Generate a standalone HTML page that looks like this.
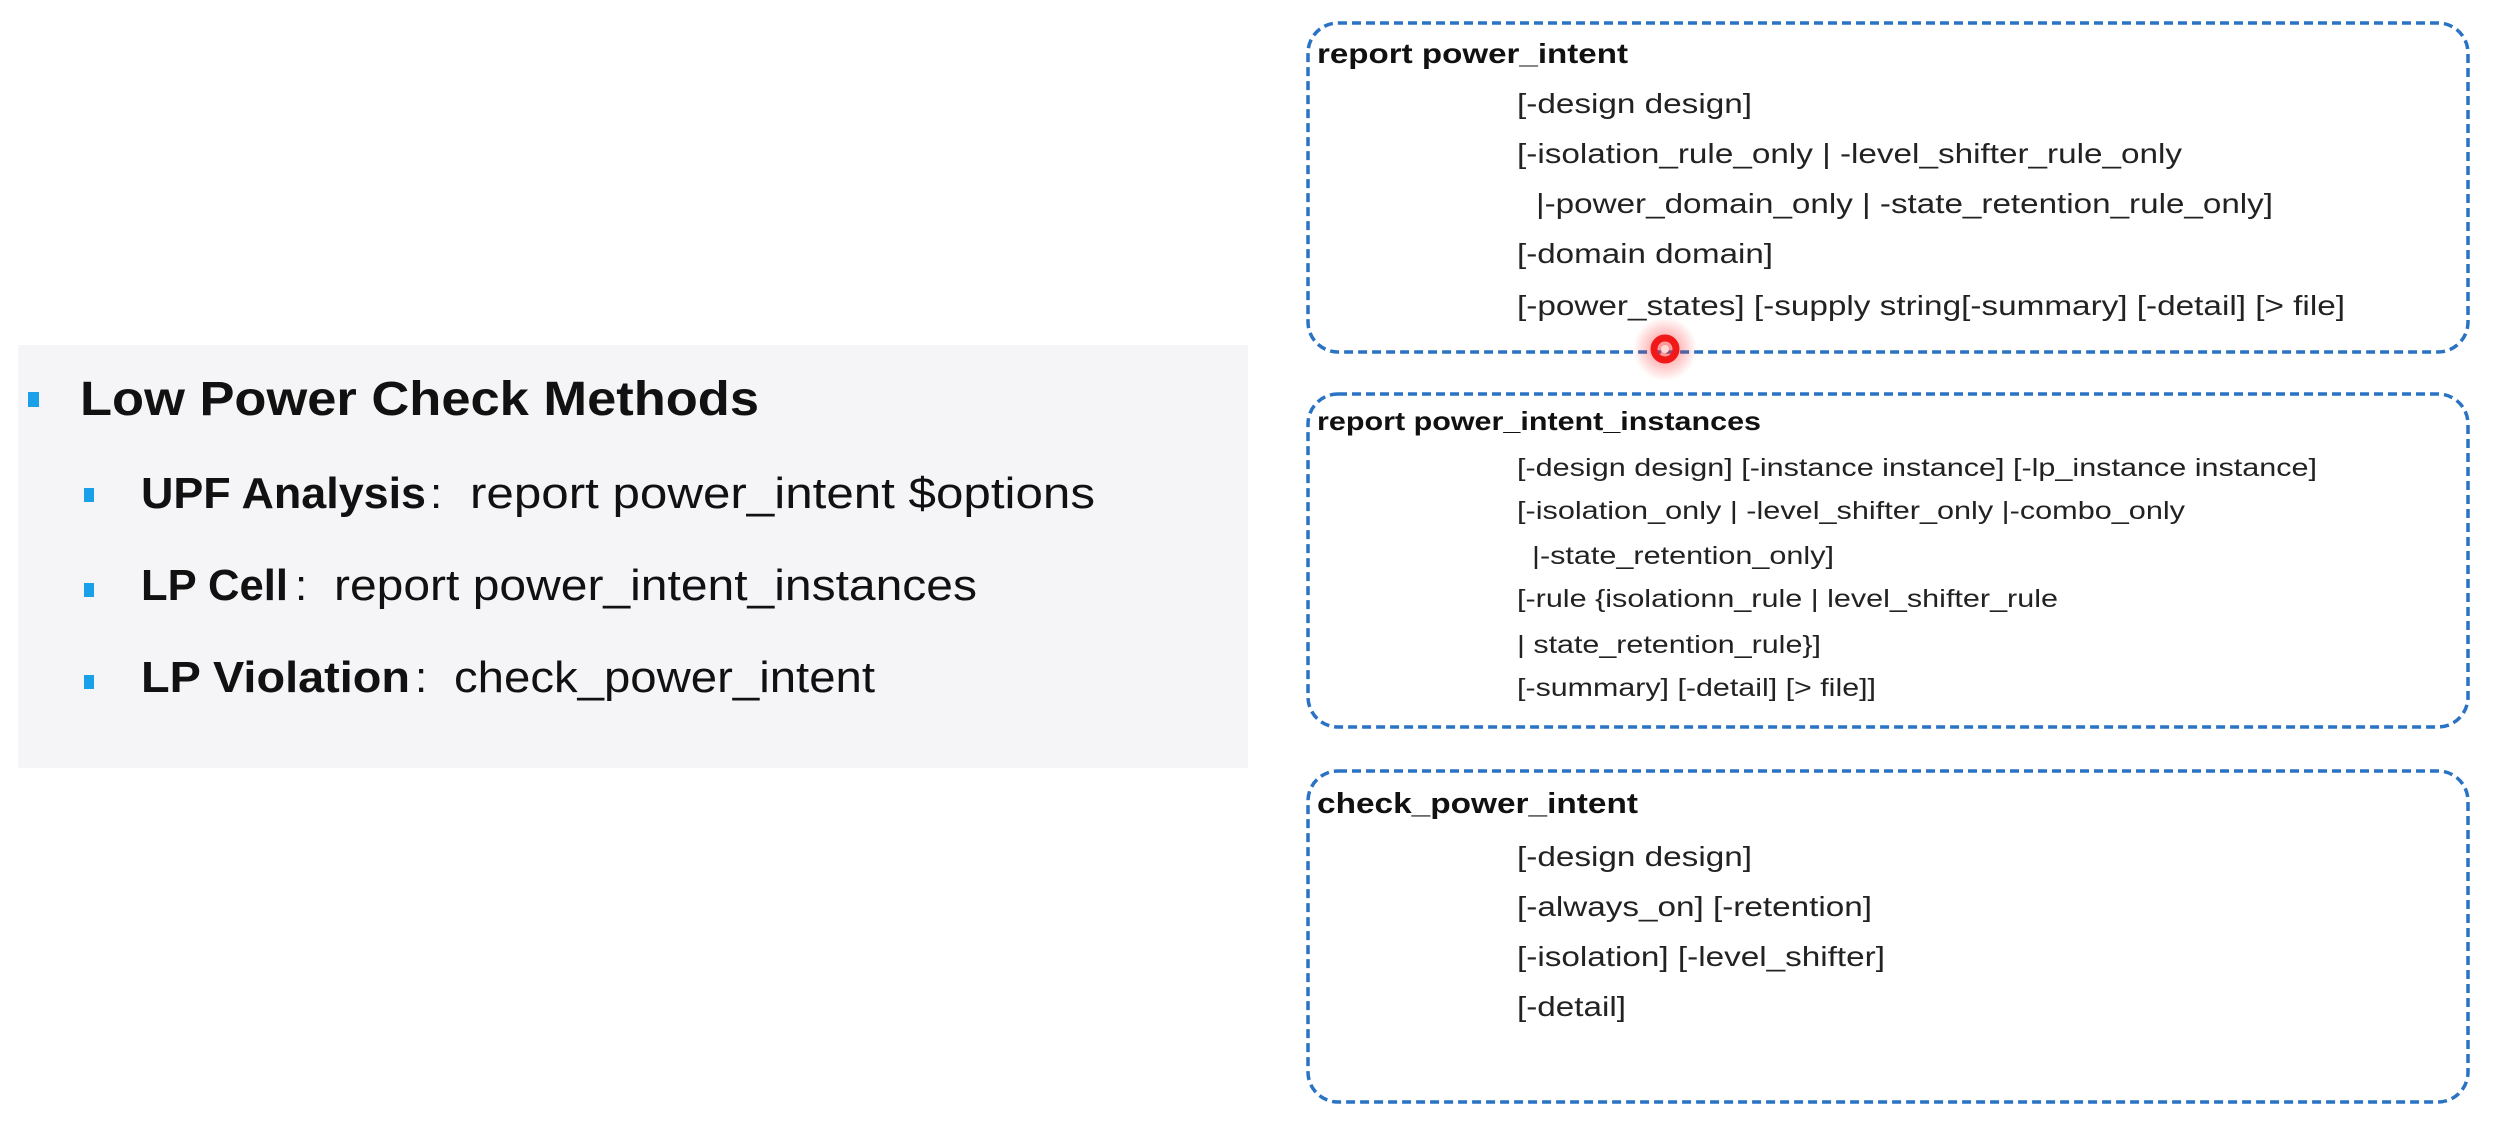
<!DOCTYPE html>
<html><head><meta charset="utf-8"><style>
html,body{margin:0;padding:0;background:#fff;width:2496px;height:1126px;overflow:hidden}
svg{display:block}
</style></head><body>
<svg width="2496" height="1126" viewBox="0 0 2496 1126" xmlns="http://www.w3.org/2000/svg" font-family="Liberation Sans, Arial, sans-serif">
<defs>
<radialGradient id="glow"><stop offset="0" stop-color="#ff2020" stop-opacity="0.55"/><stop offset="1" stop-color="#ff2020" stop-opacity="0"/></radialGradient>
</defs>
<rect x="18" y="345" width="1230" height="423" fill="#f5f5f7"/>
<rect x="28" y="392" width="11" height="15" fill="#1aa0e8"/>
<text x="80" y="415" font-size="48" font-weight="bold" fill="#111" textLength="679" lengthAdjust="spacingAndGlyphs">Low Power Check Methods</text>
<rect x="84" y="488" width="10" height="14" fill="#1aa0e8"/>
<text x="141" y="508" font-size="44" font-weight="bold" fill="#111" textLength="285" lengthAdjust="spacingAndGlyphs">UPF Analysis</text>
<text x="430" y="508" font-size="44" fill="#111">:</text>
<text x="470" y="508" font-size="44" fill="#111" textLength="625" lengthAdjust="spacingAndGlyphs">report power_intent $options</text>
<rect x="84" y="583" width="10" height="14" fill="#1aa0e8"/>
<text x="141" y="600" font-size="44" font-weight="bold" fill="#111" textLength="147" lengthAdjust="spacingAndGlyphs">LP Cell</text>
<text x="295" y="600" font-size="44" fill="#111">:</text>
<text x="334" y="600" font-size="44" fill="#111" textLength="643" lengthAdjust="spacingAndGlyphs">report power_intent_instances</text>
<rect x="84" y="675" width="10" height="14" fill="#1aa0e8"/>
<text x="141" y="692" font-size="44" font-weight="bold" fill="#111" textLength="269" lengthAdjust="spacingAndGlyphs">LP Violation</text>
<text x="415" y="692" font-size="44" fill="#111">:</text>
<text x="454" y="692" font-size="44" fill="#111" textLength="421" lengthAdjust="spacingAndGlyphs">check_power_intent</text>

<g fill="none" stroke="#2a72c4" stroke-width="3.5" stroke-dasharray="9 5">
<rect x="1308" y="23" width="1160" height="329" rx="30"/>
<rect x="1308" y="394" width="1160" height="333" rx="30"/>
<rect x="1308" y="771" width="1160" height="331" rx="30"/>
</g>

<g fill="#111">
<text x="1317" y="63" font-size="28" font-weight="bold" textLength="311" lengthAdjust="spacingAndGlyphs">report power_intent</text>
<g font-size="28" fill="#222">
<text x="1517" y="113" textLength="235" lengthAdjust="spacingAndGlyphs">[-design design]</text>
<text x="1517" y="163" textLength="665" lengthAdjust="spacingAndGlyphs">[-isolation_rule_only | -level_shifter_rule_only</text>
<text x="1536" y="213" textLength="737" lengthAdjust="spacingAndGlyphs">|-power_domain_only | -state_retention_rule_only]</text>
<text x="1517" y="263" textLength="256" lengthAdjust="spacingAndGlyphs">[-domain domain]</text>
<text x="1517" y="315" textLength="828" lengthAdjust="spacingAndGlyphs">[-power_states] [-supply string[-summary] [-detail] [&gt; file]</text>
</g>
<text x="1317" y="430" font-size="26" font-weight="bold" textLength="444" lengthAdjust="spacingAndGlyphs">report power_intent_instances</text>
<g font-size="25" fill="#222">
<text x="1517" y="476" textLength="800" lengthAdjust="spacingAndGlyphs">[-design design] [-instance instance] [-lp_instance instance]</text>
<text x="1517" y="519" textLength="668" lengthAdjust="spacingAndGlyphs">[-isolation_only | -level_shifter_only |-combo_only</text>
<text x="1532" y="564" textLength="302" lengthAdjust="spacingAndGlyphs">|-state_retention_only]</text>
<text x="1517" y="607" textLength="541" lengthAdjust="spacingAndGlyphs">[-rule {isolationn_rule | level_shifter_rule</text>
<text x="1517" y="653" textLength="304" lengthAdjust="spacingAndGlyphs">| state_retention_rule}]</text>
<text x="1517" y="696" textLength="359" lengthAdjust="spacingAndGlyphs">[-summary] [-detail] [&gt; file]]</text>
</g>
<text x="1317" y="813" font-size="29" font-weight="bold" textLength="321" lengthAdjust="spacingAndGlyphs">check_power_intent</text>
<g font-size="28" fill="#222">
<text x="1517" y="866" textLength="235" lengthAdjust="spacingAndGlyphs">[-design design]</text>
<text x="1517" y="916" textLength="355" lengthAdjust="spacingAndGlyphs">[-always_on] [-retention]</text>
<text x="1517" y="966" textLength="368" lengthAdjust="spacingAndGlyphs">[-isolation] [-level_shifter]</text>
<text x="1517" y="1016" textLength="109" lengthAdjust="spacingAndGlyphs">[-detail]</text>
</g>
</g>

<circle cx="1665" cy="349" r="32" fill="url(#glow)"/>
<circle cx="1665" cy="349" r="11" fill="none" stroke="#f01818" stroke-width="7"/>
<circle cx="1665" cy="349" r="4" fill="#ffd8d8"/>
</svg>
</body></html>
